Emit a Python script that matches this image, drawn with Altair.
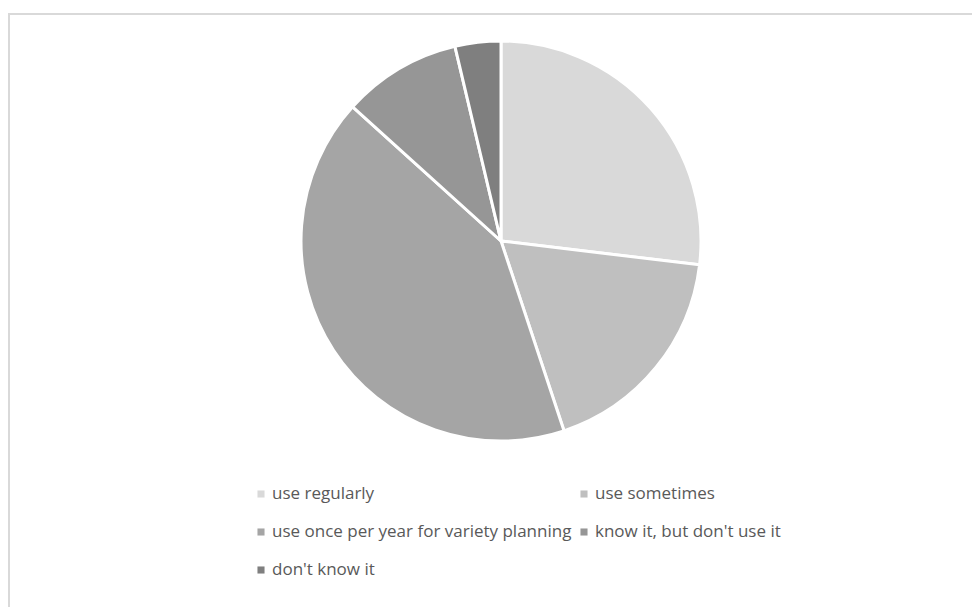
import altair as alt
import pandas as pd

categories = [
    "use regularly",
    "use sometimes",
    "use once per year for variety planning",
    "know it, but don't use it",
    "don't know it",
]
values = [26.9, 18.0, 41.8, 9.6, 3.7]
colors = ["#D9D9D9", "#BFBFBF", "#A5A5A5", "#969696", "#7F7F7F"]
legend_cols = [0, 1, 0, 1, 0]
legend_rows = [0, 0, 1, 1, 2]

df = pd.DataFrame({"category": categories, "value": values, "order": list(range(len(categories)))})
leg = pd.DataFrame({"category": categories, "col": legend_cols, "row": legend_rows})

W, H = 964, 594

color_scale = alt.Scale(domain=categories, range=colors)

pie = alt.Chart(df).mark_arc(radius=200, stroke="white", strokeWidth=3).encode(
    theta=alt.Theta("value:Q", stack=True),
    order=alt.Order("order:Q"),
    color=alt.Color("category:N", scale=color_scale, legend=None),
    x=alt.value(493),
    y=alt.value(228),
)

xs = alt.Scale(domain=[0, 1], range=[253, 576])
ys = alt.Scale(domain=[0, 2], range=[481, 557])

leg_sym = alt.Chart(leg).mark_square(size=50, opacity=1).encode(
    x=alt.X("col:Q", scale=xs, axis=None),
    y=alt.Y("row:Q", scale=ys, axis=None),
    color=alt.Color("category:N", scale=color_scale, legend=None),
)
leg_txt = alt.Chart(leg).mark_text(
    align="left", baseline="middle", dx=11, dy=0, fontSize=17, font="Open Sans", color="#595959"
).encode(
    x=alt.X("col:Q", scale=xs, axis=None),
    y=alt.Y("row:Q", scale=ys, axis=None),
    text="category:N",
)

border_df = pd.DataFrame({"k": [0]})
top_rule = alt.Chart(border_df).mark_rule(color="#D9D9D9", strokeWidth=2).encode(
    x=alt.value(0), x2=alt.value(W + 20), y=alt.value(1)
)
left_rule = alt.Chart(border_df).mark_rule(color="#D9D9D9", strokeWidth=2).encode(
    x=alt.value(1), y=alt.value(0), y2=alt.value(H + 20)
)

chart = alt.layer(top_rule, left_rule, pie, leg_sym, leg_txt).resolve_scale(
    x="shared", y="shared"
).properties(
    width=W,
    height=H,
    autosize=alt.AutoSizeParams(type="none"),
    padding={"left": 0, "top": 5, "right": 0, "bottom": 0},
).configure_view(stroke="transparent", strokeWidth=0).configure(background="white")

chart.save("out.html", embed_options={"renderer": "svg", "actions": False})
